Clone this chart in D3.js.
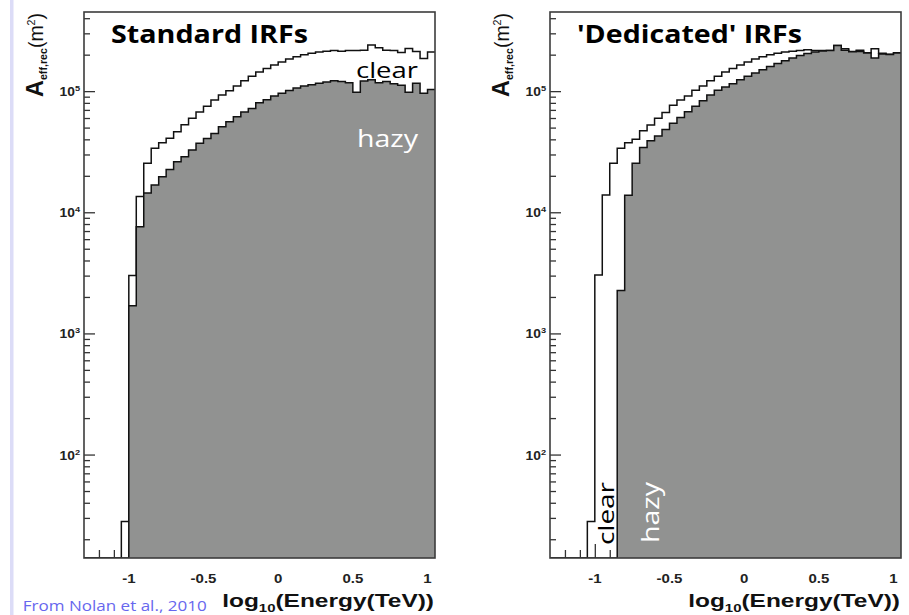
<!DOCTYPE html>
<html>
<head>
<meta charset="utf-8">
<script src="https://cdn.jsdelivr.net/npm/d3@7"></script>
<style>
  html, body { margin: 0; padding: 0; background: #fff; }
  svg { display: block; }
</style>
</head>
<body>
<svg id="chart" width="909" height="615"></svg>
<script>
// Reconstructed-energy bins, log10(E/TeV), 0.05 wide
const binEdges = [-1.30,-1.25,-1.20,-1.15,-1.10,-1.05,-1.00,-0.95,-0.90,-0.85,-0.80,-0.75,-0.70,-0.65,
  -0.60,-0.55,-0.50,-0.45,-0.40,-0.35,-0.30,-0.25,-0.20,-0.15,-0.10,-0.05,0.00,0.05,0.10,0.15,0.20,
  0.25,0.30,0.35,0.40,0.45,0.50,0.55,0.60,0.65,0.70,0.75,0.80,0.85,0.90,0.95,1.00,1.05];

// Effective area (m^2) per bin, standard IRFs
const clearStd = [0,0,0,0,0,28,3000,13500,25400,33700,37500,40800,46100,52800,59600,67400,75200,
  84400,92700,100600,110000,121600,133000,144000,154000,164000,174000,184000,192000,200000,205000,
  210000,213000,216000,213000,216000,216000,218000,240000,228000,218000,216000,208000,225000,212000,
  186000,210000];
const hazyStd = [0,0,0,0,0,0,1690,7600,14400,16800,19600,22600,26100,28700,32600,37100,40700,44800,
  50800,55800,61400,67400,71900,80000,85000,91000,96000,101000,106000,110000,113000,116000,119000,
  122000,120000,117000,98000,121000,124000,117000,120000,115000,112000,98000,116000,96000,103000];

// Effective area (m^2) per bin, dedicated IRFs
const clearDed = [0,0,0,0,0,28,3040,13900,25400,33700,37500,40000,47000,52500,59600,66700,76600,
  84300,91000,101900,110000,121600,133000,144000,154000,164000,174000,184000,192000,200000,205000,
  210000,213000,216000,220000,216000,216000,216000,238000,224000,212000,217000,207000,224000,205000,
  202000,207000];
const hazyDed = [0,0,0,0,0,0,0,0,0,2260,13800,25400,34300,38900,42600,48300,54200,60700,67500,75200,
  83200,92700,101900,108000,115000,124000,133000,141000,150000,160000,169000,178000,188000,197000,
  204000,210000,214000,216000,238000,217000,211000,212000,206000,188000,203000,201000,206000];

const xTicksMajor = [-1, -0.5, 0, 0.5, 1];
const xTickLabels = ["-1", "-0.5", "0", "0.5", "1"];
const yDecades = [1e2, 1e3, 1e4, 1e5];
const yDecadeExps = ["2", "3", "4", "5"];

const panels = [
  { left: 84,  title: "Standard IRFs",    clear: clearStd, hazy: hazyStd, titleLen: 197 },
  { left: 550, title: "'Dedicated' IRFs", clear: clearDed, hazy: hazyDed, titleLen: 225 }
];

const W = 351, TOP = 12, BOTTOM = 558;
const svg = d3.select("#chart");
const rootFont = "'Liberation Sans', Arial, Helvetica, sans-serif";
const noteFont = "'Open Sans', 'Noto Sans', sans-serif";

// thin lavender rule along the page margin
svg.append("rect").attr("x", 10).attr("y", 0).attr("width", 3.5).attr("height", 615)
  .attr("fill", "#dcdcf7");

const y = d3.scaleLog().domain([14, 4.5e5]).range([BOTTOM, TOP]).clamp(true);
const yv = v => (v > 0 ? y(v) : BOTTOM);

// minor log ticks: 2..9 times each decade, inside the range
const yMinor = [];
[10, 100, 1000, 1e4, 1e5].forEach(d => {
  for (let m = 2; m <= 9; m++) {
    const v = m * d;
    if (v >= 14 && v <= 4.5e5) yMinor.push(v);
  }
});
const xMinor = d3.range(-12, 11).map(i => i / 10).filter(v => Math.abs(v * 2 - Math.round(v * 2)) > 1e-6);

panels.forEach((p, pi) => {
  const x = d3.scaleLinear().domain([-1.3, 1.05]).range([p.left, p.left + W]);
  const g = svg.append("g");
  const clipId = "clip" + pi;
  svg.append("clipPath").attr("id", clipId)
    .append("rect").attr("x", p.left).attr("y", TOP).attr("width", W).attr("height", BOTTOM - TOP);

  // y ticks (inward)
  const yAxis = d3.axisRight(y).tickValues(yDecades).tickSize(11).tickFormat("");
  g.append("g").attr("transform", `translate(${p.left},0)`).call(yAxis)
    .call(s => s.select(".domain").remove())
    .call(s => s.selectAll("line").attr("stroke", "#333").attr("stroke-width", 1.3));
  const yAxisMinor = d3.axisRight(y).tickValues(yMinor).tickSize(6).tickFormat("");
  g.append("g").attr("transform", `translate(${p.left},0)`).call(yAxisMinor)
    .call(s => s.select(".domain").remove())
    .call(s => s.selectAll("line").attr("stroke", "#333").attr("stroke-width", 1.3));

  // x ticks (inward)
  const xAxis = d3.axisTop(x).tickValues(xTicksMajor).tickSize(14).tickFormat("");
  g.append("g").attr("transform", `translate(0,${BOTTOM})`).call(xAxis)
    .call(s => s.select(".domain").remove())
    .call(s => s.selectAll("line").attr("stroke", "#333").attr("stroke-width", 1.3));
  const xAxisMinor = d3.axisTop(x).tickValues(xMinor).tickSize(8).tickFormat("");
  g.append("g").attr("transform", `translate(0,${BOTTOM})`).call(xAxisMinor)
    .call(s => s.select(".domain").remove())
    .call(s => s.selectAll("line").attr("stroke", "#333").attr("stroke-width", 1.3));

  // histograms
  const pts = vals => vals.map((v, i) => [binEdges[i], v]).concat([[binEdges[vals.length], vals[vals.length - 1]]]);
  const line = d3.line().x(d => x(d[0])).y(d => yv(d[1])).curve(d3.curveStepAfter);
  const area = d3.area().x(d => x(d[0])).y0(BOTTOM).y1(d => yv(d[1])).curve(d3.curveStepAfter);
  const hg = g.append("g").attr("clip-path", `url(#${clipId})`);
  hg.append("path").attr("d", line(pts(p.clear))).attr("fill", "none")
    .attr("stroke", "#111").attr("stroke-width", 1.5);
  hg.append("path").attr("d", area(pts(p.hazy))).attr("fill", "#919291");
  hg.append("path").attr("d", line(pts(p.hazy))).attr("fill", "none")
    .attr("stroke", "#111").attr("stroke-width", 1.5);

  // frame
  g.append("rect").attr("x", p.left).attr("y", TOP).attr("width", W).attr("height", BOTTOM - TOP)
    .attr("fill", "none").attr("stroke", "#3c3c3c").attr("stroke-width", 1.6);

  // x tick labels
  xTicksMajor.forEach((t, i) => {
    g.append("g").attr("transform", `translate(${x(t)},583) scale(1.2,1)`)
      .append("text").attr("text-anchor", "middle").attr("font-family", rootFont)
      .attr("font-weight", "bold").attr("font-size", 12.5).attr("fill", "#222")
      .text(xTickLabels[i]);
  });

  // y tick labels 10^n
  yDecades.forEach((d, i) => {
    const t = g.append("g").attr("transform", `translate(${p.left - 4},${y(d) + 5}) scale(1.15,1)`)
      .append("text").attr("text-anchor", "end").attr("font-family", rootFont)
      .attr("font-weight", "bold").attr("font-size", 12).attr("fill", "#222");
    t.append("tspan").text("10");
    t.append("tspan").attr("font-size", 8).attr("dy", -5).text(yDecadeExps[i]);
  });

  // x axis title
  const xt = g.append("g").attr("transform", `translate(${p.left + W - 1},607)`)
    .append("text").attr("text-anchor", "end").attr("font-family", rootFont)
    .attr("font-weight", "bold").attr("font-size", 18).attr("fill", "#111");
  xt.append("tspan").text("log");
  xt.append("tspan").attr("font-size", 11).attr("dy", 5).text("10");
  xt.append("tspan").attr("dy", -5).text("(Energy(TeV))");
  const xtw = xt.node().getComputedTextLength();
  xt.attr("transform", `scale(${212 / xtw},1)`);

  // y axis title
  const yt = g.append("g").attr("transform", `translate(${p.left - 41},13) rotate(-90)`)
    .append("text").attr("text-anchor", "end").attr("font-family", rootFont)
    .attr("fill", "#111");
  yt.append("tspan").attr("font-weight", "bold").attr("font-size", 24).text("A");
  yt.append("tspan").attr("font-weight", "bold").attr("font-size", 11).attr("dy", 4).text("eff,rec");
  yt.append("tspan").attr("font-size", 20).attr("dy", -4).text("(m");
  yt.append("tspan").attr("font-size", 11).attr("dy", -8).text("2");
  yt.append("tspan").attr("font-size", 20).attr("dy", 8).text(")");
  const ytw = yt.node().getComputedTextLength();
  yt.attr("transform", `scale(${84 / ytw},1)`);

  // panel title
  g.append("text").attr("x", p.left + 27).attr("y", 43).attr("font-family", noteFont)
    .attr("font-weight", 700).attr("font-size", 25).attr("fill", "#000")
    .attr("textLength", p.titleLen).attr("lengthAdjust", "spacingAndGlyphs").text(p.title);
});

// curve annotations
svg.append("text").attr("x", 356).attr("y", 77.5).attr("font-family", noteFont)
  .attr("font-size", 22).attr("fill", "#000").attr("textLength", 62)
  .attr("lengthAdjust", "spacingAndGlyphs").text("clear");
svg.append("text").attr("x", 357).attr("y", 146.5).attr("font-family", noteFont)
  .attr("font-size", 24).attr("fill", "#fff").attr("textLength", 61)
  .attr("lengthAdjust", "spacingAndGlyphs").text("hazy");
svg.append("text").attr("transform", "translate(614,545) rotate(-90)").attr("font-family", noteFont)
  .attr("font-size", 22).attr("fill", "#000").attr("textLength", 63)
  .attr("lengthAdjust", "spacingAndGlyphs").text("clear");
svg.append("text").attr("transform", "translate(659,543) rotate(-90)").attr("font-family", noteFont)
  .attr("font-size", 24).attr("fill", "#fff").attr("textLength", 61)
  .attr("lengthAdjust", "spacingAndGlyphs").text("hazy");

// source note
svg.append("text").attr("x", 22.7).attr("y", 610.5).attr("font-family", noteFont)
  .attr("font-size", 15).attr("fill", "#6767ee").attr("textLength", 184)
  .attr("lengthAdjust", "spacingAndGlyphs").text("From Nolan et al., 2010");
</script>
</body>
</html>
